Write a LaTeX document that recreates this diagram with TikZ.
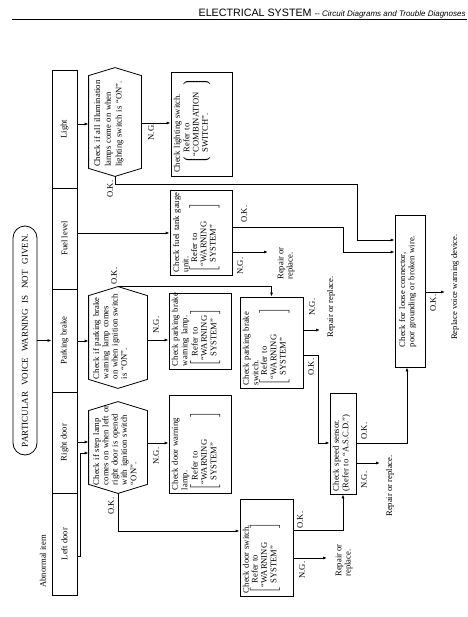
\documentclass[tikz,border=0pt]{standalone}
\usepackage{fontspec}
\setmainfont{Liberation Serif}
\newfontfamily\headfont{Liberation Sans}
\usetikzlibrary{arrows.meta,positioning}

\newcommand{\fsz}{\fontsize{8.6}{9.3}\selectfont}
% bracketed "Refer to" block: #1 inner width, #2 the lines after "Refer to"
\newcommand{\refsq}[2]{$\left[\begin{tabular}{@{}p{#1}@{}}\phantom{``}Refer to\\#2\end{tabular}\right]$}
\newcommand{\refrd}[2]{$\left\lgroup\begin{tabular}{@{}p{#1}@{}}\phantom{``}Refer to\\#2\end{tabular}\right\rgroup$}
% hexagon outline round an empty frame node, #2 = depth of the points
\newcommand{\hexframe}[2]{%
  \draw (#1.east) -- ([yshift=-#2]#1.north east) -- ([yshift=#2]#1.north west)
    -- (#1.west) -- ([yshift=#2]#1.south west) -- ([yshift=-#2]#1.south east) -- cycle;}

\tikzset{
  cell/.style={draw, rotate=90, minimum height=25pt, inner sep=0pt, font=\fsz},
  chk/.style={draw, rotate=90, inner sep=0pt},
  hexa/.style={rotate=90, inner sep=0pt},
  intext/.style={rotate=90, align=left, font=\fsz, inner sep=0pt, anchor=north west},
  lbl/.style={rotate=90, font=\fsz, inner sep=0pt},
  arr/.style={-{Latex[length=4pt,width=3pt]}},
}

\begin{document}
\begin{tikzpicture}[x=1pt,y=-1pt,line width=0.8pt]
\useasboundingbox (0,0) rectangle (467,617);

% page head
\node[anchor=base east, inner sep=0pt] (head) at (466,17)
  {\headfont\fontsize{10.7}{12}\selectfont ELECTRICAL SYSTEM\ \fontsize{8}{10}\selectfont\itshape -- Circuit Diagrams and Trouble Diagnoses};
\draw[line width=1pt] (12,20) -- (467,20);

% trouble and abnormal items
\node[draw, rotate=90, rounded corners=12pt, minimum width=229pt, minimum height=24pt,
  inner sep=0pt, font=\fontsize{9}{10}\selectfont] (pill) at (25,340.5)
  {PARTICULAR\hspace{4pt} VOICE\hspace{4pt} WARNING\hspace{4pt} IS\hspace{4pt} NOT\hspace{4pt} GIVEN.};
\node[cell, minimum width=118pt] (cLight) at (64.5,129) {Light};
\node[cell, minimum width=101pt] (cFuel) at (64.5,238.5) {Fuel level};
\node[cell, minimum width=103pt] (cPark) at (64.5,340.5) {Parking brake};
\node[cell, minimum width=101pt] (cRdoor) at (64.5,442.5) {Right door};
\node[cell, minimum width=102pt] (cLdoor) at (64.5,544) {Left door};
\node[lbl, anchor=west] (abn) at (43,588) {Abnormal item};

% first checks
\node[hexa, minimum width=108pt, minimum height=52pt] (hLight) at (115,122) {};
\hexframe{hLight}{8pt}
\node[intext, text width=96pt, font=\fontsize{8.6}{10.8}\selectfont] (tLight)
  at ([xshift=5pt,yshift=9pt]hLight.north west) {Check if all illumination\\lamps come on when\\lighting switch is ``ON''.};
\node[hexa, minimum width=101pt, minimum height=58pt] (hPark) at (118,337.5) {};
\hexframe{hPark}{9pt}
\node[intext, text width=95pt] (tPark) at ([xshift=4pt,yshift=9pt]hPark.north west)
  {Check if parking brake\\warning lamp comes\\on when ignition switch\\is ``ON''.};
\node[hexa, minimum width=91pt, minimum height=58pt] (hRdoor) at (118,447.5) {};
\hexframe{hRdoor}{9pt}
\node[intext, text width=90pt] (tRdoor) at ([xshift=4pt,yshift=8pt]hRdoor.north west)
  {Check if step lamp\\comes on when left or\\right door is opened\\with ignition switch\\``ON''.};

% part checks
\node[chk, minimum width=104pt, minimum height=61pt] (bLight) at (201.5,124) {};
\node[intext, text width=100pt] (tLightsw) at ([xshift=3pt,yshift=3pt]bLight.north west)
  {Check lighting switch.\\\hspace*{8pt}\refrd{70pt}{``COMBINATION\\\phantom{``}SWITCH''.}};
\node[chk, minimum width=85pt, minimum height=62pt] (bFuel) at (201,232.5) {};
\node[intext, text width=82pt] (tFuel) at ([xshift=3pt,yshift=3pt]bFuel.north west)
  {Check fuel tank gauge\\unit.\\\refsq{58pt}{``WARNING\\\phantom{``}SYSTEM''}};
\node[chk, minimum width=76pt, minimum height=62pt] (bPlamp) at (200,331) {};
\node[intext, text width=74pt] (tPlamp) at ([xshift=3pt,yshift=3pt]bPlamp.north west)
  {Check parking brake\\warning lamp.\\\refsq{46pt}{``WARNING\\\phantom{``}SYSTEM''}};
\node[chk, minimum width=98pt, minimum height=62pt] (bDlamp) at (200,444) {};
\node[intext, text width=94pt] (tDlamp) at ([xshift=3pt,yshift=3pt]bDlamp.north west)
  {Check door warning\\lamp.\\\refsq{67pt}{``WARNING\\\phantom{``}SYSTEM''}};
\node[chk, minimum width=91pt, minimum height=63pt] (bPsw) at (271.5,342.5) {};
\node[intext, text width=88pt] (tPsw) at ([xshift=3pt,yshift=3pt]bPsw.north west)
  {Check parking brake\\switch.\\\refsq{66pt}{``WARNING\\\phantom{``}SYSTEM''}};
\node[chk, minimum width=97pt, minimum height=53pt] (bDsw) at (266.5,547.5) {};
\node[intext, text width=92pt] (tDsw) at ([xshift=3pt,yshift=3pt]bDsw.north west)
  {Check door switch.\\\refsq{59pt}{``WARNING\\\phantom{``}SYSTEM''}};
\node[chk, minimum width=101pt, minimum height=26pt] (bSpeed) at (343,443.5) {};
\node[intext, text width=96pt] (tSpeed) at ([xshift=3pt,yshift=3pt]bSpeed.north west)
  {Check speed sensor.\\(Refer to ``A.S.C.D.'')};
\node[chk, minimum width=152pt, minimum height=30pt] (bConn) at (410,291) {};
\node[intext, text width=128pt] (tConn) at ([xshift=4pt,yshift=20pt]bConn.north west)
  {Check for loose connector,\\poor grounding or broken wire.};

% free ends
\coordinate (eFuel) at (268,252);
\coordinate (ePsw) at (320,330);
\coordinate (eDsw) at (327,558);
\coordinate (eSpeed) at (380,463);
\coordinate (eConn) at (445,292);

% connectors
\draw[arr] (pill.south) -- (cPark.north);
\draw[arr] (cLight.south |- 0,124) -- (hLight.north |- 0,124);
\draw[arr] (cFuel.south |- 0,233) -- (bFuel.north |- 0,233);
\draw[arr] (cPark.south |- 0,341) -- (hPark.north |- 0,341);
\draw[arr] (cRdoor.south |- 0,442) -- (hRdoor.north |- 0,442);
\draw[arr] (cLdoor.south |- 0,556) -- ++(3,0) |- (hRdoor.north |- 0,453);
\draw[arr] (hLight.south |- 0,123) -- (bLight.north |- 0,123);
\draw[arr] (hLight.west) |- (357,184) |- (bConn.north |- 0,240);
\draw[arr] (bFuel.south |- 0,227) -| (343,252) -- (bConn.north |- 0,252);
\draw[arr] (bFuel.south |- 0,252) -- (eFuel);
\draw[arr] (hPark.east) -| (bPsw.east);
\draw[arr] (hPark.south |- 0,340) -- (bPlamp.north |- 0,340);
\draw[arr] (hRdoor.south |- 0,443) -- (bDlamp.north |- 0,443);
\draw[arr] (hRdoor.west) |- (bDsw.north |- 0,531);
\draw[arr] (bPsw.south |- 0,330) -- (ePsw);
\draw[arr] (bPsw.south |- 0,355) -| (318,443) -- (bSpeed.north |- 0,443);
\draw[arr] (bDsw.south |- 0,558) -- (eDsw);
\draw[arr] (bDsw.south |- 0,530) -| (bSpeed.west);
\draw[arr] (bSpeed.south |- 0,463) -- (eSpeed);
\draw[arr] (bSpeed.south |- 0,443) -| (bConn.west -| 407,0);
\draw[arr] (bConn.south |- 0,292) -- (eConn);

% branch labels
\node[lbl] (okLight) at (110,189) {O.K.};
\node[lbl] (ngLight) at (151,132) {N.G.};
\node[lbl] (okFuel) at (244,214) {O.K.};
\node[lbl] (ngFuel) at (240,266) {N.G.};
\node[lbl, anchor=west, align=left] (repFuel) at (286,280) {Repair or\\replace.};
\node[lbl] (okPark) at (114,276) {O.K.};
\node[lbl] (ngPark) at (156,325) {N.G.};
\node[lbl] (ngRdoor) at (156,456) {N.G.};
\node[lbl] (okRdoor) at (111,506) {O.K.};
\node[lbl] (ngPsw) at (312,307) {N.G.};
\node[lbl] (okPsw) at (311,367) {O.K.};
\node[lbl] (repPsw) at (331,307) {Repair or replace.};
\node[lbl] (okSpeed) at (364,431) {O.K.};
\node[lbl] (ngSpeed) at (364,480) {N.G.};
\node[lbl] (repSpeed) at (390,486) {Repair or replace.};
\node[lbl] (okDsw) at (300,520) {O.K.};
\node[lbl] (ngDsw) at (302,570) {N.G.};
\node[lbl, anchor=west, align=left] (repDsw) at (344,577) {Repair or\\replace.};
\node[lbl] (okConn) at (433,303) {O.K.};
\node[lbl] (final) at (455,287) {Replace voice warning device.};
\end{tikzpicture}
\end{document}
